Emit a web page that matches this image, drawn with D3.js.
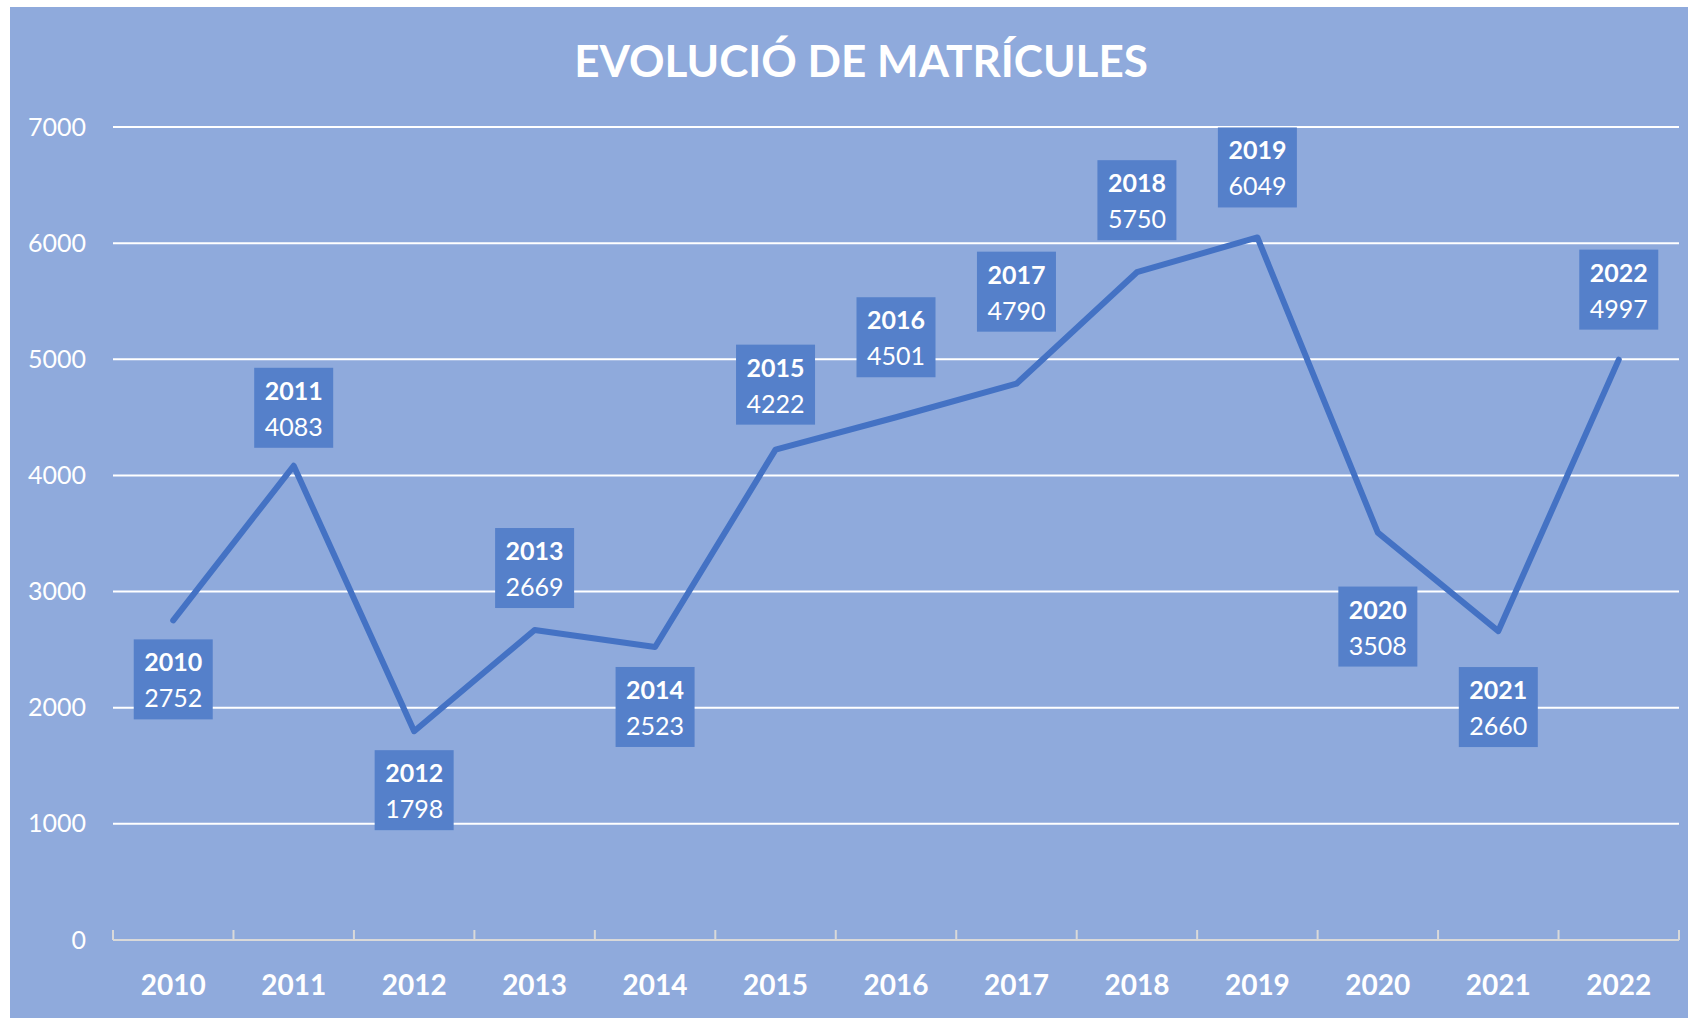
<!DOCTYPE html>
<html>
<head>
<meta charset="utf-8">
<script src="https://cdn.jsdelivr.net/npm/d3@7"></script>
<style>
  body { margin: 0; background: #fff; }
  svg { display: block; font-family: Lato, "Open Sans", sans-serif; }
</style>
</head>
<body>
<svg id="chart" width="1688" height="1018"></svg>
<script>
// data
const years = ["2010", "2011", "2012", "2013", "2014", "2015", "2016", "2017", "2018", "2019", "2020", "2021", "2022"];
const matricules = [2752, 4083, 1798, 2669, 2523, 4222, 4501, 4790, 5750, 6049, 3508, 2660, 4997];
const yTicks = [0, 1000, 2000, 3000, 4000, 5000, 6000, 7000];
const title = "EVOLUCIÓ DE MATRÍCULES";

// layout
const W = 1688, H = 1018;
const margin = {top: 127, right: 9, bottom: 78, left: 113};
// labels were dragged by hand in the original, so the gap to the point varies (px)
const labelGap = [19, 18, 19, 22, 20, 25, 40, 52, 32, 30, 54, 36, 30];

const svg = d3.select("#chart");

// panel background
svg.append("rect")
  .attr("x", 10).attr("y", 7)
  .attr("width", W - 10).attr("height", H - 7)
  .attr("fill", "#8faadc");

const x = d3.scaleBand()
  .domain(years)
  .range([margin.left, W - margin.right])
  .padding(0);

const y = d3.scaleLinear()
  .domain([0, 7000])
  .range([H - margin.bottom, margin.top]);

// title
svg.append("text")
  .attr("x", 861).attr("y", 77)
  .attr("text-anchor", "middle")
  .attr("fill", "#fff")
  .attr("font-size", 44)
  .attr("font-weight", 700)
  .text(title);

// gridlines
svg.append("g")
  .selectAll("line")
  .data(yTicks.filter(d => d > 0))
  .join("line")
  .attr("x1", x.range()[0]).attr("x2", x.range()[1])
  .attr("y1", d => y(d)).attr("y2", d => y(d))
  .attr("stroke", "#fff")
  .attr("stroke-width", 2);

// y axis labels
const yAxis = svg.append("g")
  .attr("transform", `translate(${margin.left},0)`)
  .call(d3.axisLeft(y).tickValues(yTicks).tickSize(0).tickPadding(27).tickFormat(d3.format("d")));
yAxis.select(".domain").remove();
yAxis.selectAll("text")
  .attr("fill", "#fff")
  .attr("font-size", 25)
  .attr("font-family", "Lato, sans-serif");

// x axis line + ticks at category boundaries
const x0 = y(0);
svg.append("line")
  .attr("x1", x.range()[0]).attr("x2", x.range()[1])
  .attr("y1", x0).attr("y2", x0)
  .attr("stroke", "#d9d9d9").attr("stroke-width", 2);

const bounds = years.map(d => x(d)).concat([x.range()[1]]);
svg.append("g")
  .selectAll("line")
  .data(bounds)
  .join("line")
  .attr("x1", d => d).attr("x2", d => d)
  .attr("y1", x0).attr("y2", x0 - 10)
  .attr("stroke", "#d9d9d9").attr("stroke-width", 2);

const xAxis = svg.append("g")
  .attr("transform", `translate(0,${x0})`)
  .call(d3.axisBottom(x).tickSize(0).tickPadding(35));
xAxis.select(".domain").remove();
xAxis.selectAll("text")
  .attr("fill", "#fff")
  .attr("font-size", 28)
  .attr("font-weight", 700)
  .attr("font-family", "Lato, sans-serif");

// line
const pts = years.map((d, i) => ({year: d, value: matricules[i]}));
const line = d3.line()
  .x(d => x(d.year) + x.bandwidth() / 2)
  .y(d => y(d.value));

svg.append("path")
  .datum(pts)
  .attr("d", line)
  .attr("fill", "none")
  .attr("stroke", "#4472c4")
  .attr("stroke-width", 6)
  .attr("stroke-linejoin", "round")
  .attr("stroke-linecap", "round");

// data labels: above when the line rises into the point, below otherwise
const boxW = 79, boxH = 80;
function isAbove(i) {
  if (i === 0) return matricules[0] >= matricules[1];
  return matricules[i] >= matricules[i - 1];
}

const labels = svg.append("g")
  .selectAll("g")
  .data(pts)
  .join("g")
  .attr("transform", (d, i) => {
    const cx = x(d.year) + x.bandwidth() / 2;
    const top = isAbove(i) ? y(d.value) - labelGap[i] - boxH : y(d.value) + labelGap[i];
    return `translate(${cx},${top})`;
  });

labels.append("rect")
  .attr("x", -boxW / 2).attr("y", 0)
  .attr("width", boxW).attr("height", boxH)
  .attr("fill", "#5580ca");

labels.append("text")
  .attr("y", 32)
  .attr("text-anchor", "middle")
  .attr("fill", "#fff")
  .attr("font-size", 25)
  .attr("font-weight", 700)
  .text(d => d.year);

labels.append("text")
  .attr("y", 68)
  .attr("text-anchor", "middle")
  .attr("fill", "#fff")
  .attr("font-size", 25)
  .text(d => d.value);
</script>
</body>
</html>
